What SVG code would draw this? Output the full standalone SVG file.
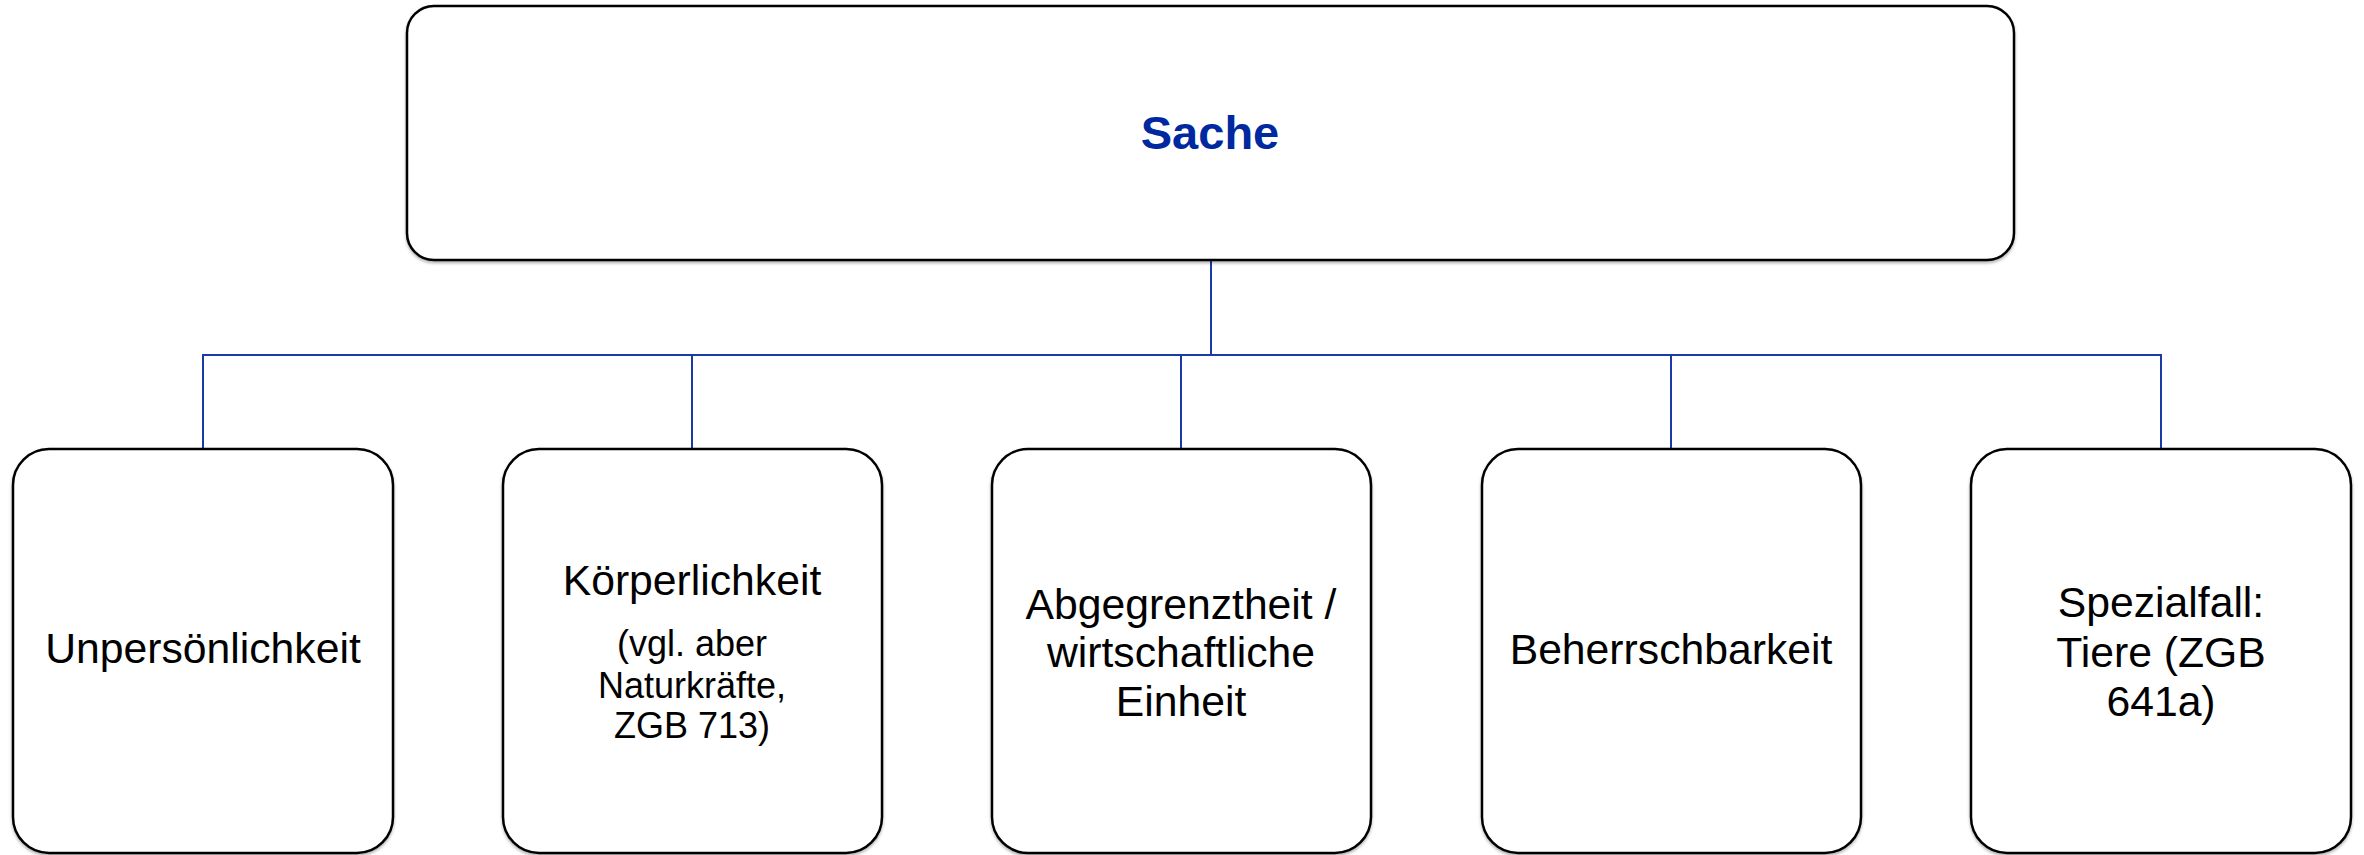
<svg xmlns="http://www.w3.org/2000/svg" width="2364" height="855" viewBox="0 0 2364 855">
<defs>
<filter id="sh" x="-5%" y="-5%" width="110%" height="115%">
<feDropShadow dx="0" dy="2" stdDeviation="1.5" flood-color="#000" flood-opacity="0.3"/>
</filter>
</defs>
<style>
.box{fill:#fff;stroke:#000;stroke-width:2.5;filter:url(#sh)}
.t{font-family:"Liberation Sans",Arial,sans-serif;font-size:42.7px;fill:#000;text-anchor:middle}
.s{font-size:36px}
.title{font-family:"Liberation Sans",Arial,sans-serif;font-size:47px;font-weight:bold;fill:#0028a0;text-anchor:middle}
.c{stroke:#1a3aa8;stroke-width:2;fill:none}
</style>
<rect width="2364" height="855" fill="#fff"/>
<g id="connectors">
<line class="c" x1="202" y1="355" x2="2162" y2="355"/>
<line class="c" x1="1211" y1="258" x2="1211" y2="356" stroke-width="3.5" stroke="#0a2a9e"/>
<line class="c" x1="203" y1="354" x2="203" y2="449"/>
<line class="c" x1="692" y1="354" x2="692" y2="449"/>
<line class="c" x1="1181" y1="354" x2="1181" y2="449"/>
<line class="c" x1="1671" y1="354" x2="1671" y2="449"/>
<line class="c" x1="2161" y1="354" x2="2161" y2="449"/>
</g>
<g id="sache">
<rect class="box" x="407" y="6" width="1607" height="254" rx="27"/>
<text class="title" x="1210" y="149">Sache</text>
</g>
<g id="unpersoenlichkeit">
<rect class="box" x="13" y="449" width="380" height="404" rx="36"/>
<text class="t" x="203" y="663">Unpersönlichkeit</text>
</g>
<g id="koerperlichkeit">
<rect class="box" x="503" y="449" width="379" height="404" rx="36"/>
<text class="t" x="692" y="595">Körperlichkeit</text>
<text class="t s" x="692" y="656">(vgl. aber</text>
<text class="t s" x="692" y="698">Naturkräfte,</text>
<text class="t s" x="692" y="738">ZGB 713)</text>
</g>
<g id="abgegrenztheit">
<rect class="box" x="992" y="449" width="379" height="404" rx="36"/>
<text class="t" x="1181" y="619">Abgegrenztheit /</text>
<text class="t" x="1181" y="667">wirtschaftliche</text>
<text class="t" x="1181" y="716">Einheit</text>
</g>
<g id="beherrschbarkeit">
<rect class="box" x="1482" y="449" width="379" height="404" rx="36"/>
<text class="t" x="1671" y="664">Beherrschbarkeit</text>
</g>
<g id="spezialfall">
<rect class="box" x="1971" y="449" width="380" height="404" rx="36"/>
<text class="t" x="2161" y="617">Spezialfall:</text>
<text class="t" x="2161" y="667">Tiere (ZGB</text>
<text class="t" x="2161" y="716">641a)</text>
</g>
</svg>
